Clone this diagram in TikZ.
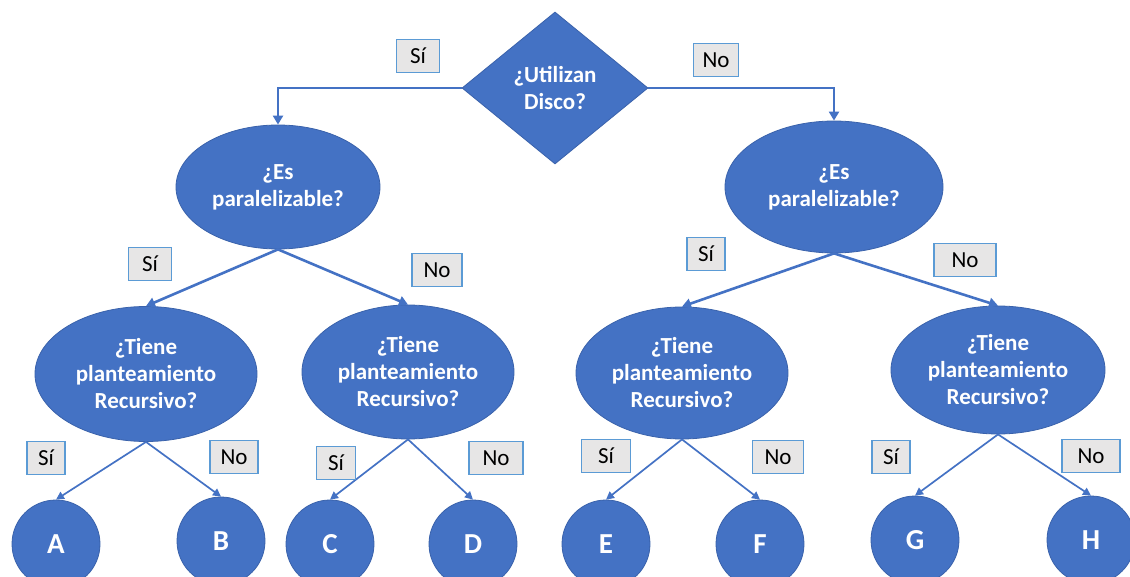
\documentclass[tikz,border=0pt]{standalone}
\usepackage{fontspec}
\setmainfont{Carlito}
\usepackage{tikz}
\usetikzlibrary{shapes.geometric,arrows.meta}

\definecolor{ofblue}{HTML}{4472C4}
\definecolor{ofedge}{HTML}{3A62AB}
\definecolor{boxgray}{HTML}{E7E6E6}
\definecolor{boxline}{HTML}{5B9BD5}

\tikzset{
    pregunta/.style={ellipse, fill=ofblue, draw=ofedge, line width=0.8pt, inner sep=0pt,
        text=white, align=center, font=\fontsize{23}{27}\selectfont\bfseries},
    decision/.style={diamond, fill=ofblue, draw=ofedge, line width=0.8pt, inner sep=0pt,
        aspect=1.22, minimum width=186, minimum height=152,
        text=white, align=center, font=\fontsize{23}{27}\selectfont\bfseries},
    hoja/.style={circle, fill=ofblue, draw=ofedge, line width=0.8pt, minimum size=88,
        inner sep=0pt, text=white, font=\fontsize{29}{32}\selectfont\bfseries},
    etiqueta/.style={rectangle, fill=boxgray, draw=boxline, line width=1.6pt,
        minimum height=33, inner sep=0pt, font=\fontsize{23}{25}\selectfont},
    rama/.style={ofblue, line width=2.6pt, -{Triangle[length=9pt,width=10pt]}},
    ramita/.style={ofblue, line width=1.7pt, -{Triangle[length=8pt,width=8pt]}}
}

\begin{document}
\begin{tikzpicture}[x=1pt, y=-1pt]
    \useasboundingbox (0,0) rectangle (1130,577);
    \clip (0,0) rectangle (1130,577);

    \node[decision] (disco) at (555,88) {¿Utilizan\\Disco?};

    \node[pregunta, minimum width=204, minimum height=124] (parSi) at (278,187) {¿Es\\paralelizable?};
    \node[pregunta, minimum width=218, minimum height=132] (parNo) at (834,187) {¿Es\\paralelizable?};

    \node[pregunta, minimum width=222, minimum height=135] (recA) at (146,374) {¿Tiene\\planteamiento\\Recursivo?};
    \node[pregunta, minimum width=212, minimum height=134] (recB) at (408,372) {¿Tiene\\planteamiento\\Recursivo?};
    \node[pregunta, minimum width=212, minimum height=132] (recC) at (682,373) {¿Tiene\\planteamiento\\Recursivo?};
    \node[pregunta, minimum width=214, minimum height=128] (recD) at (998,370) {¿Tiene\\planteamiento\\Recursivo?};

    \node[hoja] (hA) at (56,544) {A};
    \node[hoja] (hB) at (221,541) {B};
    \node[hoja] (hC) at (330,544) {C};
    \node[hoja] (hD) at (473,544) {D};
    \node[hoja] (hE) at (606,544) {E};
    \node[hoja] (hF) at (760,544) {F};
    \node[hoja] (hG) at (915,540) {G};
    \node[hoja] (hH) at (1091,540) {H};

    \draw[rama] (disco.west) -| (parSi.north);
    \draw[rama] (disco.east) -| (parNo.north);
    \draw[rama] (parSi.south) -- (recA.north);
    \draw[rama] (parSi.south) -- (recB.north);
    \draw[rama] (parNo.south) -- (recC.north);
    \draw[rama] (parNo.south) -- (recD.north);
    \draw[ramita] (recA.south) -- (hA.north);
    \draw[ramita] (recA.south) -- (hB.north);
    \draw[ramita] (recB.south) -- (hC.north);
    \draw[ramita] (recB.south) -- (hD.north);
    \draw[ramita] (recC.south) -- (hE.north);
    \draw[ramita] (recC.south) -- (hF.north);
    \draw[ramita] (recD.south) -- (hG.north);
    \draw[ramita] (recD.south) -- (hH.north);

    \node[etiqueta, minimum width=43] (eSi0) at (418,56) {Sí};
    \node[etiqueta, minimum width=45] (eNo0) at (716,60) {No};
    \node[etiqueta, minimum width=43] (eSi1) at (150,264) {Sí};
    \node[etiqueta, minimum width=50] (eNo1) at (437,270) {No};
    \node[etiqueta, minimum width=38] (eSi2) at (706,254) {Sí};
    \node[etiqueta, minimum width=62] (eNo2) at (965,260) {No};
    \node[etiqueta, minimum width=38] (eSi3) at (46,458) {Sí};
    \node[etiqueta, minimum width=48] (eNo3) at (234,457) {No};
    \node[etiqueta, minimum width=39] (eSi4) at (336,463) {Sí};
    \node[etiqueta, minimum width=54] (eNo4) at (496,458) {No};
    \node[etiqueta, minimum width=49] (eSi5) at (606,456) {Sí};
    \node[etiqueta, minimum width=51] (eNo5) at (778,457) {No};
    \node[etiqueta, minimum width=38] (eSi6) at (891,457) {Sí};
    \node[etiqueta, minimum width=58] (eNo6) at (1091,456) {No};
\end{tikzpicture}
\end{document}
